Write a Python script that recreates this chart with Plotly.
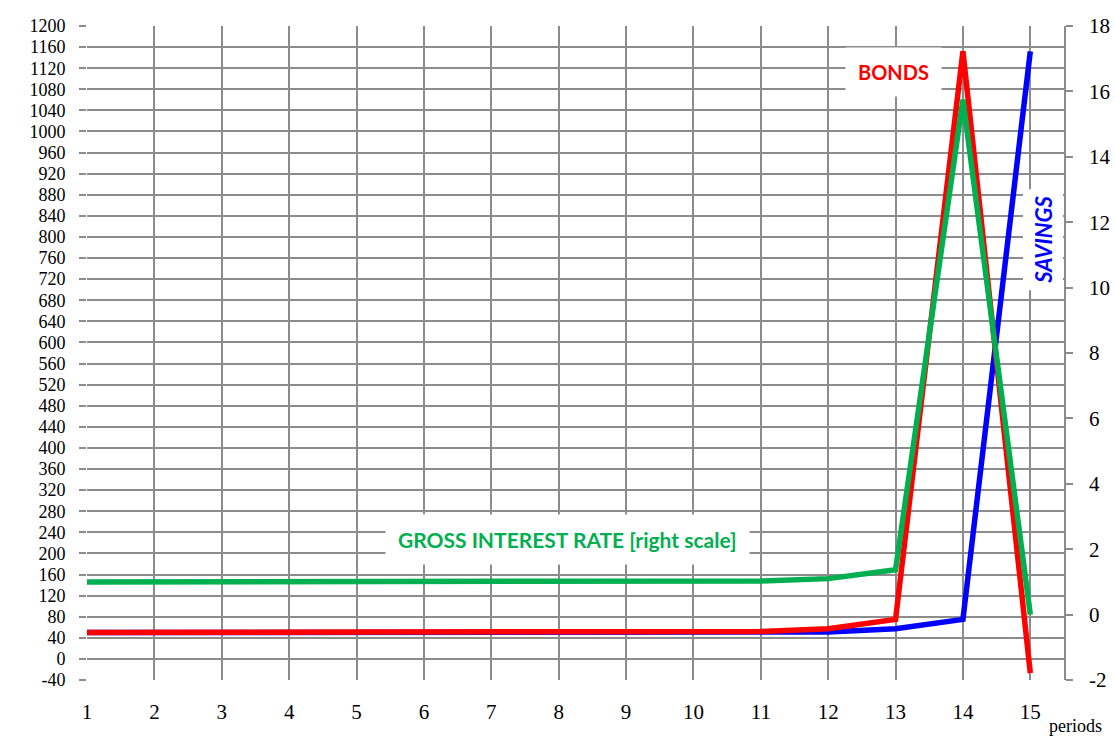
import plotly.graph_objects as go

periods = list(range(1, 16))
bonds = [50, 50, 50, 50, 50, 50, 50, 50, 50, 50, 52, 57, 75, 1152, -27]
savings = [50, 50, 50, 50, 50, 50, 50, 50, 50, 50, 50, 51, 57, 75, 1152]
gross_rate = [1.0, 1.0, 1.0, 1.0, 1.0, 1.0, 1.0, 1.0, 1.0, 1.01, 1.03, 1.1, 1.37, 15.75, 0.0]

left_ticks = list(range(-40, 1201, 40))
right_ticks = list(range(-2, 19, 2))

GRID = "#8c8c8c"
SERIF = "Liberation Serif"
SANS = "Lato"

fig = go.Figure()
fig.add_trace(go.Scatter(x=periods, y=savings, mode="lines",
                         line=dict(color="#0000ff", width=5.5), name="SAVINGS"))
fig.add_trace(go.Scatter(x=periods, y=bonds, mode="lines",
                         line=dict(color="#ff0000", width=5.5), name="BONDS"))
fig.add_trace(go.Scatter(x=periods, y=gross_rate, mode="lines", yaxis="y2",
                         line=dict(color="#00b050", width=5.5),
                         name="GROSS INTEREST RATE"))

fig.update_layout(
    width=1115, height=736,
    margin=dict(l=87, r=51, t=26, b=56),
    paper_bgcolor="white", plot_bgcolor="white",
    showlegend=False,
    font=dict(family=SERIF, size=18, color="black"),
    xaxis=dict(range=[1, 15.5], tickvals=periods, ticktext=[str(p) for p in periods],
               showgrid=True, gridcolor=GRID, gridwidth=1.5, zeroline=False,
               ticks="", showline=False, automargin=False, ticklabelstandoff=17,
               tickfont=dict(family=SERIF, size=21)),
    yaxis=dict(range=[-40, 1200], tickvals=left_ticks,
               ticktext=[str(v) for v in left_ticks],
               showgrid=True, gridcolor=GRID, gridwidth=1.5, zeroline=False,
               ticks="outside", ticklen=7, tickcolor=GRID, tickwidth=1.5,
               showline=False, automargin=False, ticklabelstandoff=10,
               tickfont=dict(family=SERIF, size=18)),
    yaxis2=dict(range=[-2, 18], tickvals=right_ticks,
                ticktext=[str(v) for v in right_ticks],
                overlaying="y", side="right", showgrid=False, zeroline=False,
                ticks="outside", ticklen=7, tickcolor=GRID, tickwidth=1.5,
                showline=True, linecolor=GRID, linewidth=1.5,
                automargin=False, ticklabelstandoff=12,
                tickfont=dict(family=SERIF, size=21)),
)

fig.add_annotation(x=12.97, y=1112, xref="x", yref="y", text="<b>BONDS</b>",
                   showarrow=False, font=dict(family=SANS, size=20, color="#ff0000"),
                   bgcolor="white", borderpad=12)
fig.add_annotation(x=15.19, y=795, xref="x", yref="y", text="<b><i>SAVINGS</i></b>",
                   showarrow=False, textangle=-90,
                   font=dict(family=SANS, size=22, color="#0000ff"),
                   bgcolor="white", borderpad=6)
fig.add_annotation(x=8.13, y=226, xref="x", yref="y",
                   text="<b>GROSS INTEREST RATE [right scale]</b>",
                   showarrow=False, font=dict(family=SANS, size=21, color="#00b050"),
                   bgcolor="white", borderpad=12)
fig.add_annotation(x=1.0, y=0, xref="paper", yref="paper", xanchor="center",
                   yanchor="middle", xshift=11, yshift=-46, text="periods",
                   showarrow=False, font=dict(family=SERIF, size=18, color="black"))

fig.write_html("out.html", config={"displayModeBar": False},
               post_script="document.body.style.margin='0';document.body.style.padding='0';")
